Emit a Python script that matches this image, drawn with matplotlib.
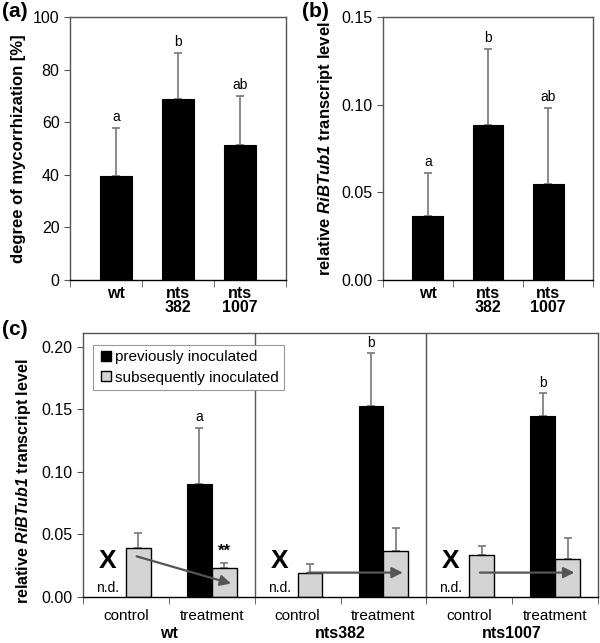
import matplotlib
matplotlib.use("Agg")
from matplotlib import pyplot as plt
from matplotlib.lines import Line2D

plt.rcParams['font.family'] = ['Liberation Sans', 'DejaVu Sans']
plt.rcParams['mathtext.fontset'] = 'custom'
plt.rcParams['mathtext.rm'] = 'Liberation Sans:bold'
plt.rcParams['mathtext.bf'] = 'Liberation Sans:bold'
plt.rcParams['mathtext.it'] = 'Liberation Sans:italic:bold'
plt.rcParams['mathtext.bfit'] = 'Liberation Sans:italic:bold'

# ---- data ----
lines_ab = ['wt', 'nts\n382', 'nts\n1007']
myc_mean = [39.7, 68.9, 51.5]
myc_err = [18.0, 17.6, 18.3]
myc_sig = ['a', 'b', 'ab']

tub_mean = [0.0365, 0.0885, 0.0545]
tub_err = [0.0245, 0.0435, 0.0435]
tub_sig = ['a', 'b', 'ab']

groups_c = ['wt', 'nts382', 'nts1007']
conds_c = ['control', 'treatment']
# previously inoculated (black), only measured for treatment
prev_mean = [0.0907, 0.1528, 0.1445]
prev_err = [0.0443, 0.0419, 0.0182]
prev_sig = ['a', 'b', 'b']
# subsequently inoculated (grey): control, treatment for each line
subs_ctrl_mean = [0.0395, 0.0195, 0.0339]
subs_ctrl_err = [0.0117, 0.0072, 0.0072]
subs_trt_mean = [0.0235, 0.0365, 0.0301]
subs_trt_err = [0.0040, 0.0190, 0.0174]
subs_trt_sig = ['**', '', '']
arrow_y_start = [0.0325, 0.0195, 0.0195]
arrow_y_end = [0.0107, 0.0195, 0.0195]

GREY = '#d4d4d4'
ERR = '#777777'
SPINE = '#555555'

fig = plt.figure(figsize=(6, 6.43), dpi=100)


def style_axes(ax, ysize):
    for s in ax.spines.values():
        s.set_color(SPINE)
        s.set_linewidth(1.0)
    ax.spines['bottom'].set_color('black')
    ax.tick_params(axis='y', direction='out', length=4, color=SPINE, labelsize=ysize)
    ax.tick_params(axis='x', which='major', length=0, pad=6)
    ax.tick_params(axis='x', which='minor', direction='out', length=5, color=SPINE)


def small_bars(ax, means, errs, sigs, off, ylim, yticks, fmt, ylabel):
    pos = [0.64, 1.5, 2.36]
    ax.bar(pos, means, width=0.44, color='black', edgecolor='black', lw=0.8, zorder=2)
    ax.errorbar(pos, means, yerr=[[0] * 3, errs], fmt='none', ecolor=ERR,
                elinewidth=1.2, capsize=3, capthick=1.2, zorder=1)
    for x, m, e, s in zip(pos, means, errs, sigs):
        ax.text(x, m + e + off, s, ha='center', va='bottom', fontsize=10)
    ax.set_xlim(0, 3)
    ax.set_ylim(*ylim)
    ax.set_yticks(yticks)
    ax.set_yticklabels([fmt.format(v) for v in yticks])
    ax.set_xticks(pos)
    ax.set_xticklabels(lines_ab, fontweight='bold', fontsize=11.5, linespacing=0.95)
    ax.set_xticks([0, 1, 2, 3], minor=True)
    ax.set_ylabel(ylabel, fontweight='bold', fontsize=12, labelpad=5)
    style_axes(ax, 11.5)
    ax.tick_params(axis='x', which='major', pad=4)


ax_a = fig.add_axes([70 / 600, 1 - 280 / 643, 216 / 600, 263 / 643])
small_bars(ax_a, myc_mean, myc_err, myc_sig, 1.5, (0, 100), [0, 20, 40, 60, 80, 100],
           '{:.0f}', 'degree of mycorrhization [%]')

ax_b = fig.add_axes([383 / 600, 1 - 280 / 643, 210 / 600, 263 / 643])
small_bars(ax_b, tub_mean, tub_err, tub_sig, 0.0022, (0, 0.15), [0, 0.05, 0.10, 0.15],
           '{:.2f}', r'relative $\mathbfit{RiBTub1}$ transcript level')

# ---- panel c ----
ax_c = fig.add_axes([83 / 600, 1 - 597 / 643, 515 / 600, 264 / 643])
w = 0.29
for g in range(3):
    c_ctrl = 2 * g + 0.5
    c_trt = 2 * g + 1.5
    ax_c.bar(c_trt - w / 2, prev_mean[g], width=w, color='black', edgecolor='black',
             lw=0.8, zorder=2)
    ax_c.errorbar(c_trt - w / 2, prev_mean[g], yerr=[[0], [prev_err[g]]], fmt='none',
                  ecolor=ERR, elinewidth=1.2, capsize=3, capthick=1.2, zorder=1)
    ax_c.text(c_trt - w / 2, prev_mean[g] + prev_err[g] + 0.003, prev_sig[g],
              ha='center', va='bottom', fontsize=10)
    for c, m, e in [(c_ctrl, subs_ctrl_mean[g], subs_ctrl_err[g]),
                    (c_trt, subs_trt_mean[g], subs_trt_err[g])]:
        ax_c.bar(c + w / 2, m, width=w, color=GREY, edgecolor='black', lw=1.0, zorder=2)
        ax_c.errorbar(c + w / 2, m, yerr=[[0], [e]], fmt='none', ecolor=ERR,
                      elinewidth=1.2, capsize=3, capthick=1.2, zorder=1)
    if subs_trt_sig[g]:
        ax_c.text(c_trt + w / 2, subs_trt_mean[g] + subs_trt_err[g] + 0.003, subs_trt_sig[g],
                  ha='center', va='bottom', fontsize=12, fontweight='bold')
    ax_c.text(c_ctrl - w / 2 - 0.07, 0.0284, 'X', ha='center', va='center',
              fontsize=19, fontweight='bold')
    ax_c.text(c_ctrl - w / 2 - 0.07, 0.0072, 'n.d.', ha='center', va='center', fontsize=10)
    ax_c.annotate('', xy=(c_trt + w / 2 + 0.08, arrow_y_end[g]),
                  xytext=(c_ctrl + w / 2 - 0.02, arrow_y_start[g]),
                  arrowprops=dict(arrowstyle='-|>', color='#555555', lw=1.6,
                                  mutation_scale=16, shrinkA=0, shrinkB=0), zorder=4)
    ax_c.text(2 * g + 1, -0.0295, groups_c[g], ha='center', va='center',
              fontsize=11.5, fontweight='bold')

for xv in [2, 4]:
    ax_c.axvline(xv, color=SPINE, lw=1.0, zorder=0)

ax_c.set_xlim(0, 6)
ax_c.set_ylim(0, 0.211)
ax_c.set_yticks([0, 0.05, 0.10, 0.15, 0.20])
ax_c.set_yticklabels(['0.00', '0.05', '0.10', '0.15', '0.20'])
ax_c.set_xticks([i + 0.5 for i in range(6)])
ax_c.set_xticklabels(conds_c * 3, fontsize=11)
ax_c.set_xticks(range(7), minor=True)
ax_c.set_ylabel(r'relative $\mathbfit{RiBTub1}$ transcript level',
                fontweight='bold', fontsize=11.5, labelpad=5)
ax_c.yaxis.set_label_coords(-0.098, 0.44)
style_axes(ax_c, 11.5)
ax_c.tick_params(axis='x', which='major', pad=9)

handles = [Line2D([], [], marker='s', ls='none', color='black', markersize=7),
           Line2D([], [], marker='s', ls='none', markerfacecolor=GREY,
                  markeredgecolor='black', markersize=7)]
leg = ax_c.legend(handles, ['previously inoculated', 'subsequently inoculated'],
                  loc='upper left', bbox_to_anchor=(0.005, 0.985), fontsize=11,
                  fancybox=False, framealpha=1, edgecolor='#999999',
                  handletextpad=0.1, handlelength=1.0, borderpad=0.35, labelspacing=0.45)
leg.get_frame().set_linewidth(0.8)

for lab, x, y in [('(a)', 0.003, 0.997), ('(b)', 0.503, 0.997), ('(c)', 0.003, 0.503)]:
    fig.text(x, y, lab, fontsize=15, fontweight='bold', ha='left', va='top')

fig.savefig('out.png', dpi=100)
